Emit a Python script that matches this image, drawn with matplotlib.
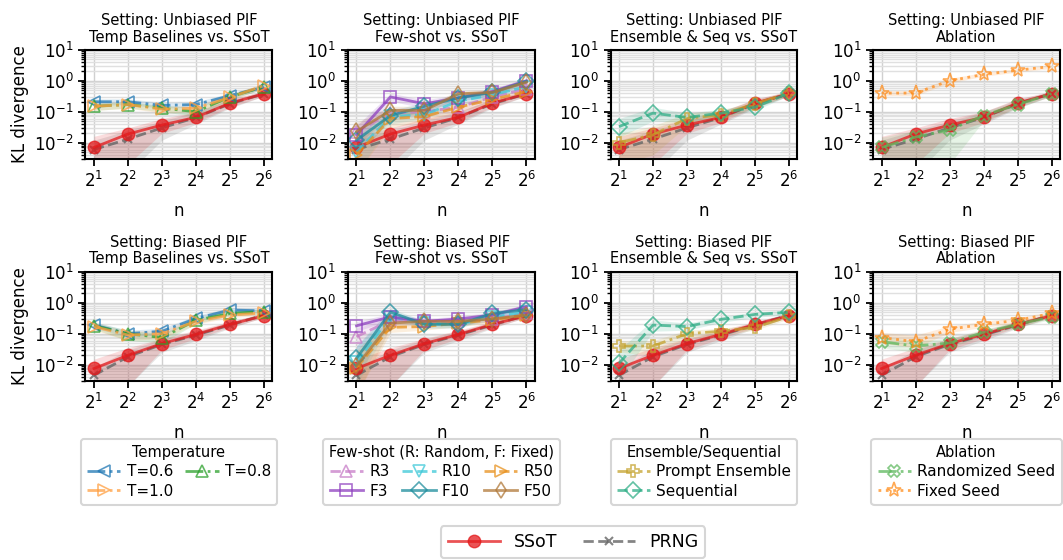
import numpy as np
import matplotlib
matplotlib.use("Agg")
import matplotlib.pyplot as plt
from matplotlib.ticker import LogLocator

plt.rcParams['font.family'] = ['DejaVu Sans']
plt.rcParams['font.size'] = 10

n = [2, 4, 8, 16, 32, 64]

# ---------------- Unbiased PIF (top row) ----------------
ssot_u = [0.007, 0.019, 0.037, 0.066, 0.19, 0.38]
ssot_u_lo = [0.002, 0.002, 0.02, 0.045, 0.14, 0.32]
ssot_u_hi = [0.016, 0.03, 0.06, 0.10, 0.26, 0.46]
prng_u = [0.006, 0.013, 0.03, 0.065, 0.18, 0.38]
prng_u_lo = [0.001, 0.001, 0.012, 0.04, 0.13, 0.32]
prng_u_hi = [0.012, 0.025, 0.05, 0.10, 0.25, 0.45]

t06_u = [0.21, 0.21, 0.16, 0.17, 0.33, 0.62]
t06_u_lo = [0.16, 0.17, 0.13, 0.14, 0.27, 0.52]
t06_u_hi = [0.26, 0.26, 0.20, 0.21, 0.40, 0.75]
t08_u = [0.15, 0.17, 0.13, 0.10, 0.30, 0.65]
t08_u_lo = [0.11, 0.13, 0.10, 0.07, 0.24, 0.55]
t08_u_hi = [0.19, 0.21, 0.16, 0.14, 0.37, 0.78]
t10_u = [0.15, 0.17, 0.12, 0.13, 0.29, 0.70]
t10_u_lo = [0.11, 0.13, 0.09, 0.10, 0.23, 0.58]
t10_u_hi = [0.19, 0.21, 0.15, 0.16, 0.36, 0.84]

r3_u = [0.022, 0.09, 0.10, 0.14, 0.30, 0.55]
r3_u_lo = [0.008, 0.06, 0.07, 0.10, 0.22, 0.45]
r3_u_hi = [0.04, 0.13, 0.14, 0.19, 0.40, 0.68]
r10_u = [0.005, 0.07, 0.08, 0.22, 0.35, 0.65]
r10_u_lo = [0.001, 0.04, 0.06, 0.16, 0.27, 0.52]
r10_u_hi = [0.015, 0.10, 0.11, 0.29, 0.45, 0.80]
r50_u = [0.004, 0.06, 0.07, 0.14, 0.25, 0.45]
r50_u_lo = [0.001, 0.03, 0.05, 0.10, 0.19, 0.36]
r50_u_hi = [0.012, 0.09, 0.10, 0.19, 0.33, 0.56]
f3_u = [0.018, 0.30, 0.18, 0.28, 0.45, 1.0]
f3_u_lo = [0.008, 0.22, 0.13, 0.21, 0.36, 0.82]
f3_u_hi = [0.035, 0.40, 0.24, 0.36, 0.56, 1.2]
f10_u = [0.012, 0.075, 0.15, 0.28, 0.42, 0.95]
f10_u_lo = [0.004, 0.05, 0.11, 0.21, 0.33, 0.78]
f10_u_hi = [0.025, 0.11, 0.20, 0.36, 0.52, 1.15]
f50_u = [0.023, 0.11, 0.11, 0.38, 0.42, 0.90]
f50_u_lo = [0.008, 0.08, 0.08, 0.29, 0.33, 0.74]
f50_u_hi = [0.045, 0.15, 0.15, 0.48, 0.52, 1.1]

pe_u = [0.01, 0.018, 0.06, 0.08, 0.18, 0.40]
pe_u_lo = [0.002, 0.004, 0.035, 0.055, 0.14, 0.33]
pe_u_hi = [0.02, 0.035, 0.09, 0.11, 0.23, 0.48]
seq_u = [0.033, 0.09, 0.065, 0.09, 0.14, 0.40]
seq_u_lo = [0.015, 0.05, 0.045, 0.07, 0.11, 0.33]
seq_u_hi = [0.06, 0.14, 0.09, 0.12, 0.18, 0.48]

rand_u = [0.007, 0.015, 0.026, 0.075, 0.17, 0.38]
rand_u_lo = [0.002, 0.002, 0.002, 0.05, 0.13, 0.32]
rand_u_hi = [0.015, 0.025, 0.04, 0.10, 0.22, 0.45]
fixed_u = [0.40, 0.40, 1.0, 1.6, 2.2, 2.9]
fixed_u_lo = [0.33, 0.33, 0.85, 1.4, 1.9, 2.5]
fixed_u_hi = [0.48, 0.48, 1.2, 1.85, 2.5, 3.3]

# ---------------- Biased PIF (bottom row) ----------------
ssot_b = [0.0075, 0.02, 0.048, 0.095, 0.20, 0.38]
ssot_b_lo = [0.002, 0.002, 0.03, 0.07, 0.16, 0.33]
ssot_b_hi = [0.015, 0.035, 0.07, 0.13, 0.25, 0.45]
prng_b = [0.0045, 0.018, 0.045, 0.09, 0.19, 0.40]
prng_b_lo = [0.001, 0.002, 0.025, 0.06, 0.15, 0.34]
prng_b_hi = [0.008, 0.03, 0.065, 0.12, 0.24, 0.47]

t06_b = [0.19, 0.10, 0.12, 0.31, 0.58, 0.55]
t06_b_lo = [0.15, 0.08, 0.09, 0.25, 0.48, 0.46]
t06_b_hi = [0.24, 0.13, 0.15, 0.38, 0.70, 0.66]
t08_b = [0.18, 0.10, 0.075, 0.27, 0.45, 0.52]
t08_b_lo = [0.14, 0.06, 0.05, 0.21, 0.37, 0.43]
t08_b_hi = [0.23, 0.13, 0.10, 0.33, 0.55, 0.62]
t10_b = [0.17, 0.09, 0.10, 0.25, 0.40, 0.47]
t10_b_lo = [0.13, 0.06, 0.07, 0.20, 0.33, 0.39]
t10_b_hi = [0.22, 0.12, 0.13, 0.31, 0.48, 0.56]

r3_b = [0.08, 0.27, 0.25, 0.25, 0.30, 0.45]
r3_b_lo = [0.03, 0.20, 0.20, 0.20, 0.24, 0.37]
r3_b_hi = [0.15, 0.35, 0.31, 0.31, 0.37, 0.54]
r10_b = [0.012, 0.35, 0.22, 0.20, 0.35, 0.50]
r10_b_lo = [0.002, 0.25, 0.17, 0.16, 0.28, 0.41]
r10_b_hi = [0.04, 0.48, 0.28, 0.25, 0.43, 0.60]
r50_b = [0.008, 0.16, 0.17, 0.22, 0.28, 0.40]
r50_b_lo = [0.001, 0.11, 0.13, 0.17, 0.22, 0.33]
r50_b_hi = [0.025, 0.22, 0.22, 0.27, 0.34, 0.48]
f3_b = [0.18, 0.35, 0.25, 0.30, 0.40, 0.75]
f3_b_lo = [0.12, 0.27, 0.20, 0.24, 0.33, 0.62]
f3_b_hi = [0.25, 0.45, 0.31, 0.37, 0.49, 0.90]
f10_b = [0.016, 0.50, 0.20, 0.20, 0.45, 0.60]
f10_b_lo = [0.003, 0.38, 0.15, 0.15, 0.36, 0.49]
f10_b_hi = [0.04, 0.65, 0.26, 0.26, 0.55, 0.73]
f50_b = [0.009, 0.22, 0.25, 0.25, 0.30, 0.40]
f50_b_lo = [0.001, 0.16, 0.20, 0.20, 0.24, 0.33]
f50_b_hi = [0.03, 0.30, 0.31, 0.31, 0.37, 0.48]

pe_b = [0.04, 0.04, 0.10, 0.12, 0.16, 0.36]
pe_b_lo = [0.025, 0.02, 0.07, 0.09, 0.13, 0.30]
pe_b_hi = [0.06, 0.06, 0.13, 0.15, 0.20, 0.43]
seq_b = [0.011, 0.19, 0.17, 0.29, 0.42, 0.49]
seq_b_lo = [0.003, 0.12, 0.13, 0.23, 0.34, 0.41]
seq_b_hi = [0.03, 0.28, 0.22, 0.36, 0.50, 0.58]

rand_b = [0.055, 0.04, 0.05, 0.11, 0.20, 0.35]
rand_b_lo = [0.035, 0.025, 0.035, 0.085, 0.16, 0.29]
rand_b_hi = [0.08, 0.06, 0.07, 0.14, 0.25, 0.42]
fixed_b = [0.075, 0.055, 0.14, 0.20, 0.27, 0.45]
fixed_b_lo = [0.05, 0.035, 0.11, 0.16, 0.22, 0.38]
fixed_b_hi = [0.11, 0.09, 0.18, 0.25, 0.33, 0.53]

# style per method: (label, color, linestyle, marker)
styles = {
    't06': ('T=0.6', '#1f77b4', '-.', '<'),
    't08': ('T=0.8', '#2ca02c', '-.', '^'),
    't10': ('T=1.0', '#ff9f40', '-.', '>'),
    'r3': ('R3', '#c77cc7', '--', '^'),
    'r10': ('R10', '#3cc8d8', '--', 'v'),
    'r50': ('R50', '#e8901c', '--', '>'),
    'f3': ('F3', '#8e3fbf', '-', 's'),
    'f10': ('F10', '#1c8c9c', '-', 'D'),
    'f50': ('F50', '#b07838', '-', 'd'),
    'pe': ('Prompt Ensemble', '#c4a22c', '-.', 'P'),
    'seq': ('Sequential', '#2eae86', '--', 'D'),
    'rand': ('Randomized Seed', '#5cb85c', '-.', 'X'),
    'fixed': ('Fixed Seed', '#ff8c1a', ':', '*'),
}

titles = ['Temp Baselines vs. SSoT', 'Few-shot vs. SSoT', 'Ensemble & Seq vs. SSoT', 'Ablation']
settings = ['Unbiased PIF', 'Biased PIF']
legend_titles = ['Temperature', 'Few-shot (R: Random, F: Fixed)', 'Ensemble/Sequential', 'Ablation']
legend_ncols = [2, 3, 1, 1]
legend_order = [['t06', 't10', 't08'], ['r3', 'f3', 'r10', 'f10', 'r50', 'f50'], ['pe', 'seq'], ['rand', 'fixed']]

data = {
    0: {'ssot': (ssot_u, ssot_u_lo, ssot_u_hi), 'prng': (prng_u, prng_u_lo, prng_u_hi),
        'panels': [
            {'t06': (t06_u, t06_u_lo, t06_u_hi), 't08': (t08_u, t08_u_lo, t08_u_hi), 't10': (t10_u, t10_u_lo, t10_u_hi)},
            {'r3': (r3_u, r3_u_lo, r3_u_hi), 'r10': (r10_u, r10_u_lo, r10_u_hi), 'r50': (r50_u, r50_u_lo, r50_u_hi),
             'f3': (f3_u, f3_u_lo, f3_u_hi), 'f10': (f10_u, f10_u_lo, f10_u_hi), 'f50': (f50_u, f50_u_lo, f50_u_hi)},
            {'pe': (pe_u, pe_u_lo, pe_u_hi), 'seq': (seq_u, seq_u_lo, seq_u_hi)},
            {'rand': (rand_u, rand_u_lo, rand_u_hi), 'fixed': (fixed_u, fixed_u_lo, fixed_u_hi)},
        ]},
    1: {'ssot': (ssot_b, ssot_b_lo, ssot_b_hi), 'prng': (prng_b, prng_b_lo, prng_b_hi),
        'panels': [
            {'t06': (t06_b, t06_b_lo, t06_b_hi), 't08': (t08_b, t08_b_lo, t08_b_hi), 't10': (t10_b, t10_b_lo, t10_b_hi)},
            {'r3': (r3_b, r3_b_lo, r3_b_hi), 'r10': (r10_b, r10_b_lo, r10_b_hi), 'r50': (r50_b, r50_b_lo, r50_b_hi),
             'f3': (f3_b, f3_b_lo, f3_b_hi), 'f10': (f10_b, f10_b_lo, f10_b_hi), 'f50': (f50_b, f50_b_lo, f50_b_hi)},
            {'pe': (pe_b, pe_b_lo, pe_b_hi), 'seq': (seq_b, seq_b_lo, seq_b_hi)},
            {'rand': (rand_b, rand_b_lo, rand_b_hi), 'fixed': (fixed_b, fixed_b_lo, fixed_b_hi)},
        ]},
}

fig, axes = plt.subplots(2, 4, figsize=(10.63, 5.6), dpi=100)
fig.subplots_adjust(left=0.0804, right=0.9972, bottom=0.320, top=0.911, wspace=0.404, hspace=1.037)

for r in range(2):
    for c in range(4):
        ax = axes[r, c]
        d = data[r]
        ax.set_xscale('log', base=2)
        ax.set_yscale('log')

        # baselines
        y, lo, hi = d['prng']
        ax.fill_between(n, lo, hi, color='gray', alpha=0.2, lw=0)
        h_prng, = ax.plot(n, y, ls='--', marker='x', color='#666666', lw=2, ms=6, mew=1.5, alpha=0.8, label='PRNG')
        y, lo, hi = d['ssot']
        ax.fill_between(n, lo, hi, color='#e41a1c', alpha=0.15, lw=0)
        h_ssot, = ax.plot(n, y, ls='-', marker='o', color='#e41a1c', lw=2, ms=9, alpha=0.75, label='SSoT')

        handles = {}
        for key, (y, lo, hi) in d['panels'][c].items():
            label, color, ls, marker = styles[key]
            ax.fill_between(n, lo, hi, color=color, alpha=0.15, lw=0)
            ms = 11 if marker == '*' else 8
            h, = ax.plot(n, y, ls=ls, marker=marker, color=color, mfc='none', mec=color,
                         lw=2, ms=ms, mew=1.2, alpha=0.75, label=label)
            handles[key] = h

        ax.set_ylim(3e-3, 10)
        ax.set_xticks(n)
        ax.yaxis.set_major_locator(LogLocator(base=10, numticks=20))
        ax.yaxis.set_minor_locator(LogLocator(base=10, subs=np.arange(2, 10), numticks=100))
        ax.grid(True, which='major', color='#d0d0d0', lw=1)
        ax.grid(True, which='minor', axis='y', color='#e0e0e0', lw=1)
        ax.set_axisbelow(True)
        for s in ax.spines.values():
            s.set_linewidth(1.5)
        ax.tick_params(which='major', width=1.3, length=5, labelsize=12)
        ax.tick_params(which='minor', width=1.0, length=3)
        ax.set_title(f"Setting: {settings[r]}\n{titles[c]}", fontsize=10.5, linespacing=1.1)
        ax.set_xlabel('n', fontsize=12, labelpad=8)
        if c == 0:
            ax.set_ylabel('KL divergence', fontsize=12)

        if r == 1:
            hs = [handles[k] for k in legend_order[c]]
            leg = ax.legend(hs, [h.get_label() for h in hs], title=legend_titles[c], ncol=legend_ncols[c],
                            loc='upper center', bbox_to_anchor=(0.5, -0.53), fontsize=11, title_fontsize=10.5,
                            handlelength=2.2, handletextpad=0.4, columnspacing=0.8, labelspacing=0.3,
                            borderaxespad=0, borderpad=0.4, edgecolor='#cccccc')
            leg.get_frame().set_linewidth(1.5)

fleg = fig.legend([h_ssot, h_prng], ['SSoT', 'PRNG'], loc='lower center', bbox_to_anchor=(0.539, 0.0),
                  ncol=2, fontsize=12.5, handlelength=3.0, columnspacing=1.5, edgecolor='#cccccc',
                  borderaxespad=0.1)
fleg.get_frame().set_linewidth(1.5)

fig.savefig('out.png', dpi=100)
